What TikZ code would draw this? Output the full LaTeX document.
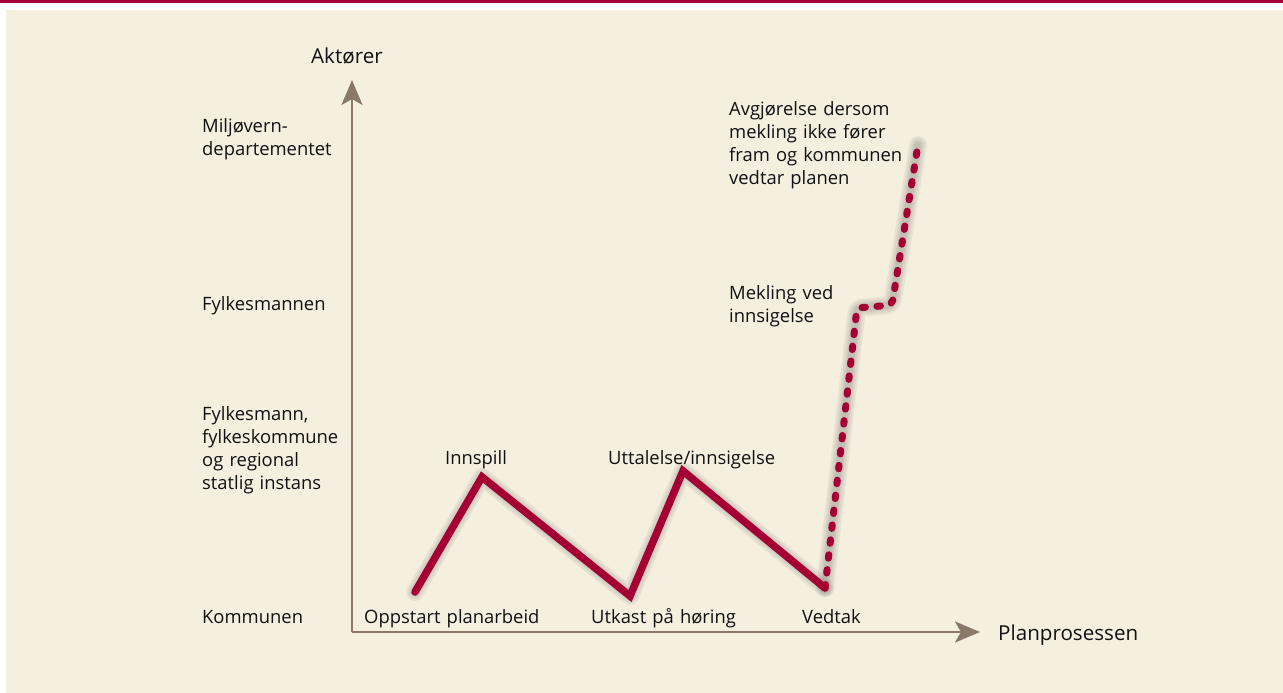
\documentclass[tikz,border=0pt]{standalone}
\usepackage{fontspec}
\setmainfont{Open Sans}
\usetikzlibrary{arrows.meta}
\definecolor{bgbeige}{HTML}{F5EFE0}
\definecolor{topred}{HTML}{A8003A}
\definecolor{linered}{HTML}{A50034}
\definecolor{axisbrown}{HTML}{8A7968}
\definecolor{txt}{HTML}{111111}
\tikzset{
  axis/.style={draw=axisbrown,line width=2.7pt,-{Stealth[length=25pt,width=21pt,inset=6pt]}},
  redline/.style={draw=linered,line width=7.5pt,line cap=round,line join=miter},
  reddash/.style={draw=linered,line width=7pt,line cap=round,dash pattern=on 3.5pt off 11.5pt,rounded corners=5pt},
  shadowline/.style={draw=black,line cap=round,line join=round,opacity=0.05},
  lab/.style={text=txt,inner sep=0pt,anchor=base west,text width=260pt,align=left,font=\fontsize{18.4}{23.3}\selectfont},
  biglab/.style={text=txt,inner sep=0pt,anchor=base west,font=\fontsize{20.6}{24}\selectfont},
}
\begin{document}
\begin{tikzpicture}[x=1pt,y=-1pt]
\useasboundingbox (0,0) rectangle (1283,693);
\fill[topred] (0,0) rectangle (1283,3);
\fill[bgbeige] (6,10) rectangle (1283,693);
% axes
\coordinate (origin) at (352,632);
\coordinate (ytip) at (352,80);
\coordinate (xtip) at (980,632);
\draw[axis] (origin) -- (ytip);
\draw[axis] (origin) -- (xtip);
% points
\coordinate (p0) at (415,592);
\coordinate (p1) at (482,477);
\coordinate (p2) at (630,596);
\coordinate (p3) at (683,471);
\coordinate (p4) at (825,588);
\coordinate (q1) at (857,308);
\coordinate (q2) at (892,305);
\coordinate (q3) at (918,145);
% shadows
\begin{scope}[shift={(5,7)}]
\foreach \w in {18,14,10,7} {
  \draw[shadowline,line width=\w pt] (p0) -- (p1) -- (p2) -- (p3) -- (p4);
  \draw[shadowline,line width=\w pt,rounded corners=5pt] (p4) -- (q1) -- (q2) -- (q3);
}
\end{scope}
% lines
\draw[redline] (p0) -- (p1) -- (p2) -- (p3) -- (p4);
\draw[reddash] (p4) -- (q1) -- (q2) -- (q3);
% labels
\node[biglab] (aktorer) at (311,64) {Aktører};
\node[biglab] (plan) at (998,640) {Planprosessen};
\node[lab] (mil) at (202,132) {Miljøvern-\\departementet};
\node[lab] (fylm) at (202,310) {Fylkesmannen};
\node[lab] (fylk) at (202,420) {Fylkesmann,\\fylkeskommune\\og regional\\statlig instans};
\node[lab] (kom) at (202,623) {Kommunen};
\node[lab] (opp) at (364,623) {Oppstart planarbeid};
\node[lab] (utk) at (591,623) {Utkast på høring};
\node[lab] (ved) at (802,623) {Vedtak};
\node[lab] (inn) at (445,464) {Innspill};
\node[lab] (utt) at (608,464) {Uttalelse/innsigelse};
\node[lab] (mek) at (729,299) {Mekling ved\\innsigelse};
\node[lab] (avg) at (729,115) {Avgjørelse dersom\\mekling ikke fører\\fram og kommunen\\vedtar planen};
\end{tikzpicture}
\end{document}
